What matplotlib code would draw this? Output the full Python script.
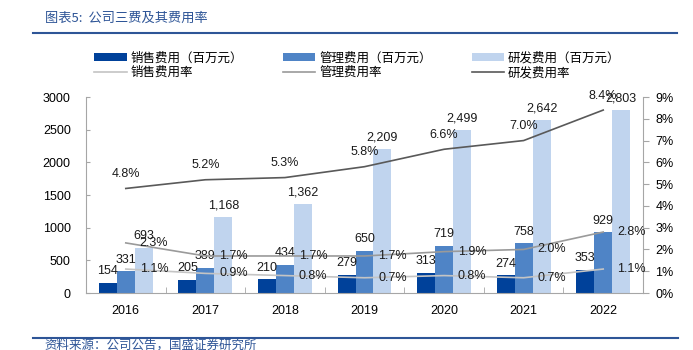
import numpy as np
import matplotlib
matplotlib.use('Agg')
import matplotlib.pyplot as plt
from matplotlib.patches import Patch
from matplotlib.lines import Line2D

plt.rcParams['font.family'] = ['Liberation Sans', 'Noto Sans CJK SC']

''' Data read off the chart '''
years = ['2016', '2017', '2018', '2019', '2020', '2021', '2022']
sales_cost = [154, 205, 210, 279, 313, 274, 353]
admin_cost = [331, 389, 434, 650, 719, 758, 929]
rd_cost = [693, 1168, 1362, 2209, 2499, 2642, 2803]
sales_rate = [1.1, 0.9, 0.8, 0.7, 0.8, 0.7, 1.1]
admin_rate = [2.3, 1.7, 1.7, 1.7, 1.9, 2.0, 2.8]
rd_rate = [4.8, 5.2, 5.3, 5.8, 6.6, 7.0, 8.4]

bar_labels = ['销售费用（百万元）', '管理费用（百万元）', '研发费用（百万元）']
line_labels = ['销售费用率', '管理费用率', '研发费用率']
left_ticks = [0, 500, 1000, 1500, 2000, 2500, 3000]
right_ticks = [0, 1, 2, 3, 4, 5, 6, 7, 8, 9]

bar_colors = ['#00419A', '#4F84C6', '#C0D4EE']
line_colors = ['#C4C4C4', '#9A9A9A', '#595959']
title_blue = '#2E5597'
axis_gray = '#A6A6A6'

''' Figure and axes '''
fig = plt.figure(figsize=(6.93, 3.5), dpi=100)
ax = fig.add_axes([86 / 693, 1 - 293 / 350, (643 - 86) / 693, (293 - 97) / 350])
ax2 = ax.twinx()

x = np.arange(len(years))
w = 0.226

# Bars
for i, (vals, col) in enumerate(zip([sales_cost, admin_cost, rd_cost], bar_colors)):
    pos = x + (i - 1) * w
    ax.bar(pos, vals, width=w, color=col, zorder=2)
    for px, v in zip(pos, vals):
        ax.annotate('{:,}'.format(v), (px, v), xytext=(0, 4), textcoords='offset points',
                    ha='center', va='bottom', fontsize=9, color='#1A1A1A')

ax.set_xlim(-0.5, len(years) - 0.5)
ax.set_ylim(0, 3000)
ax.set_yticks(left_ticks)
ax.set_xticks(x)
ax.set_xticklabels(years)
ax.set_xticks(np.arange(-0.5, len(years), 1), minor=True)
ax.tick_params(axis='x', which='major', length=0, pad=9, labelsize=9)
ax.tick_params(axis='x', which='minor', direction='in', length=4, color=axis_gray)
ax.tick_params(axis='y', direction='in', length=3, color=axis_gray, pad=11, labelsize=9)

# Rate lines
for rates, col in zip([sales_rate, admin_rate], line_colors[:2]):
    ax2.plot(x, rates, color=col, lw=1.2, zorder=3)
    for px, r in zip(x, rates):
        ax2.annotate('{:.1f}%'.format(r), (px, r), xytext=(10, 0), textcoords='offset points',
                     ha='left', va='center', fontsize=9, color='#1A1A1A')
ax2.plot(x, rd_rate, color=line_colors[2], lw=1.2, zorder=3)
for px, r in zip(x, rd_rate):
    ax2.annotate('{:.1f}%'.format(r), (px, r), xytext=(0, 6), textcoords='offset points',
                 ha='center', va='bottom', fontsize=9, color='#1A1A1A')

ax2.set_ylim(0, 9)
ax2.set_yticks(right_ticks)
ax2.set_yticklabels(['{}%'.format(t) for t in right_ticks])
ax2.tick_params(axis='y', direction='out', length=4, color=axis_gray, pad=5, labelsize=9)

for a in (ax, ax2):
    a.spines['top'].set_visible(False)
    for s in ('left', 'right', 'bottom'):
        a.spines[s].set_color(axis_gray)
ax.spines['right'].set_visible(False)
ax2.spines['left'].set_visible(False)
ax2.spines['bottom'].set_visible(False)

''' Legend '''
handles = []
labels = []
for bl, bc, ll, lc in zip(bar_labels, bar_colors, line_labels, line_colors):
    handles.append(Patch(facecolor=bc, edgecolor='none'))
    labels.append(bl)
    handles.append(Line2D([0], [0], color=lc, lw=1.2))
    labels.append(ll)
fig.legend(handles, labels, ncol=3, loc='upper left', bbox_to_anchor=(94 / 693, 1 - 52 / 350),
           frameon=False, fontsize=9, handlelength=2.6, handleheight=0.7, handletextpad=0.3,
           columnspacing=3.2, labelspacing=0.2, borderpad=0, borderaxespad=0)

''' Title, rules and source '''
fig.text(45 / 693, 1 - 18 / 350, '图表5:  公司三费及其费用率', color=title_blue, fontsize=9.5,
         style='italic', ha='left', va='center', family=['Noto Sans CJK SC'])
fig.add_artist(Line2D([33 / 693, 677 / 693], [1 - 33 / 350, 1 - 33 / 350], color=title_blue, lw=1.5))
fig.add_artist(Line2D([33 / 693, 678 / 693], [1 - 338 / 350, 1 - 338 / 350], color=title_blue, lw=1.5))
fig.text(44 / 693, 1 - 345 / 350, '资料来源：公司公告，国盛证券研究所', color=title_blue, fontsize=9,
         style='italic', ha='left', va='center', family=['Noto Sans CJK SC'])

fig.savefig('out.png', dpi=100)
